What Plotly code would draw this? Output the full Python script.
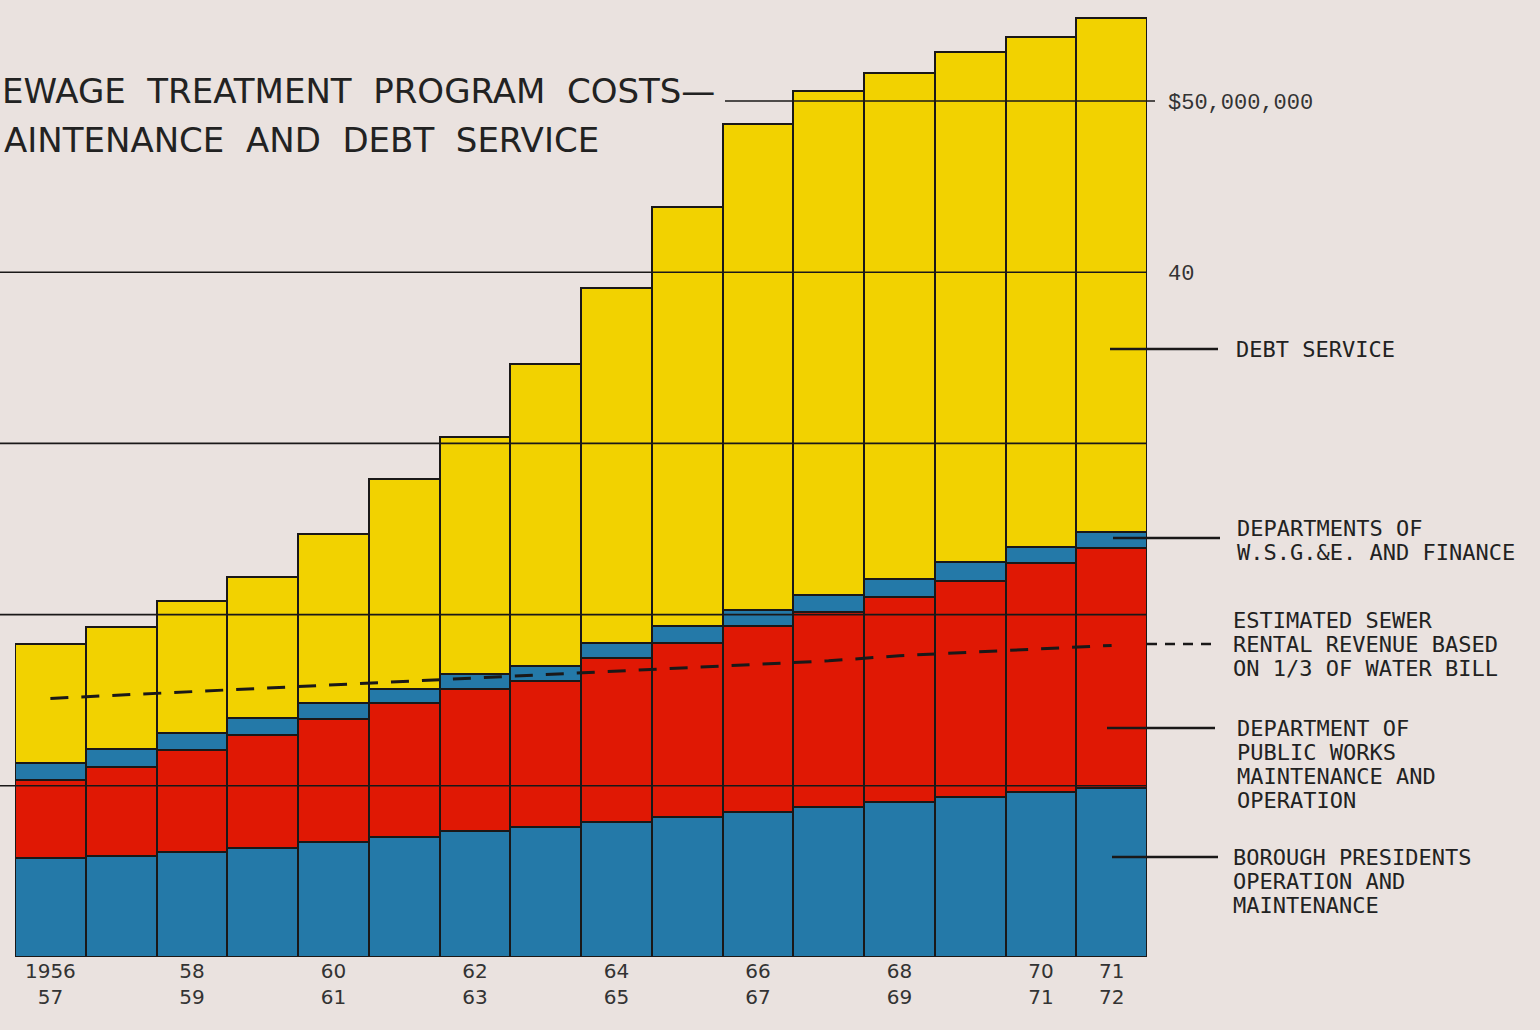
import plotly.graph_objects as go

# ---------------- data (millions of dollars) ----------------
categories = ["1956-57", "1957-58", "1958-59", "1959-60", "1960-61", "1961-62",
              "1962-63", "1963-64", "1964-65", "1965-66", "1966-67", "1967-68",
              "1968-69", "1969-70", "1970-71", "1971-72"]
borough_presidents = [5.78, 5.90, 6.13, 6.37, 6.72, 7.00, 7.36, 7.60,
                      7.89, 8.18, 8.47, 8.76, 9.05, 9.35, 9.64, 9.87]
public_works = [4.56, 5.20, 5.96, 6.60, 7.18, 7.83, 8.29, 8.53,
                9.58, 10.16, 10.86, 11.39, 11.97, 12.62, 13.38, 14.02]
wsge_finance = [1.00, 1.05, 1.00, 1.00, 0.93, 0.82, 0.88, 0.88,
                0.88, 1.00, 0.93, 1.00, 1.05, 1.10, 0.93, 0.93]
debt_service = [6.95, 7.13, 7.71, 8.24, 9.87, 12.27, 13.84, 17.64,
                20.74, 24.47, 28.39, 29.44, 29.56, 29.79, 29.79, 30.02]
sewer_rental = [15.1, 15.3, 15.5, 15.7, 15.9, 16.1, 16.3, 16.5,
                16.7, 16.9, 17.1, 17.3, 17.6, 17.8, 18.0, 18.2]

xtick_categories = ["1956-57", "1958-59", "1960-61", "1962-63", "1964-65",
                    "1966-67", "1968-69", "1970-71", "1971-72"]
xtick_text = ["1956<br>57", "58<br>59", "60<br>61", "62<br>63", "64<br>65",
              "66<br>67", "68<br>69", "70<br>71", "71<br>72"]
ytick_vals = [40, 50]
ytick_text = ["40", "$50,000,000"]
grid_vals = [10, 20, 30, 40, 50]

title_lines = ["EWAGE  TREATMENT  PROGRAM  COSTS—", "AINTENANCE  AND  DEBT  SERVICE"]
label_debt = ["DEBT SERVICE"]
label_wsge = ["DEPARTMENTS OF", "W.S.G.&E. AND FINANCE"]
label_sewer = ["ESTIMATED SEWER", "RENTAL REVENUE BASED", "ON 1/3 OF WATER BILL"]
label_dpw = ["DEPARTMENT OF", "PUBLIC WORKS", "MAINTENANCE AND", "OPERATION"]
label_borough = ["BOROUGH PRESIDENTS", "OPERATION AND", "MAINTENANCE"]

# ---------------- styling ----------------
W, H = 1540, 1030
BG = "#EAE2DF"
YELLOW = "#F2D200"
RED = "#E01804"
BLUE = "#2479A8"
INK = "#1a1818"


def px(x):
    return x / W


def py(y):
    return 1 - y / H


fig = go.Figure()
outline = dict(color=INK, width=2.3)
for vals, col in [(borough_presidents, BLUE), (public_works, RED),
                  (wsge_finance, BLUE), (debt_service, YELLOW)]:
    fig.add_trace(go.Bar(x=categories, y=vals,
                         marker=dict(color=col, line=outline),
                         showlegend=False, hoverinfo="y"))

fig.add_trace(go.Scatter(x=categories, y=sewer_rental, mode="lines",
                         line=dict(color=INK, width=3, dash="18px,13px"),
                         showlegend=False))

shapes = []
for v in grid_vals:
    x0 = px(725) if v == 50 else 0
    x1 = px(1155) if v == 50 else px(1147)
    shapes.append(dict(type="line", xref="paper", yref="y", x0=x0, x1=x1,
                       y0=v, y1=v, line=dict(color=INK, width=1.6),
                       layer="above"))

# leader lines to the labels
leaders = [(349, 1110, 1218, "solid"), (538, 1113, 1220, "solid"),
           (644, 1147, 1215, "10px,8px"), (728, 1107, 1215, "solid"),
           (857, 1112, 1218, "solid")]
for y, x0, x1, dash in leaders:
    shapes.append(dict(type="line", xref="paper", yref="paper",
                       x0=px(x0), x1=px(x1), y0=py(y), y1=py(y),
                       line=dict(color=INK, width=2.4, dash=dash), layer="above"))

annotations = []
title_font = dict(family="DejaVu Sans", size=34, color="#222")
for i, t in enumerate(title_lines):
    annotations.append(dict(text=t, xref="paper", yref="paper",
                            x=px(0 if i == 0 else 2), y=py(91 + i * 49),
                            xanchor="left", yanchor="middle", showarrow=False,
                            font=title_font))

label_font = dict(family="DejaVu Sans Mono", size=22, color="#222")
label_groups = [(label_debt, 349, 1234), (label_wsge, 528, 1235),
                (label_sewer, 620, 1231), (label_dpw, 728, 1235),
                (label_borough, 857, 1231)]
for lines, y0, x0 in label_groups:
    for j, t in enumerate(lines):
        annotations.append(dict(text=t, xref="paper", yref="paper",
                                x=px(x0), y=py(y0 + j * 24), xanchor="left",
                                yanchor="middle", showarrow=False,
                                font=label_font))

fig.update_layout(
    template="none",
    width=W, height=H,
    margin=dict(l=0, r=0, t=0, b=0),
    paper_bgcolor=BG, plot_bgcolor=BG,
    barmode="stack", bargap=0,
    shapes=shapes, annotations=annotations,
    xaxis=dict(domain=[px(15), px(1147)], type="category",
               tickvals=xtick_categories, ticktext=xtick_text,
               showgrid=False, zeroline=False, showline=False, ticks="",
               automargin=False,
               tickfont=dict(family="DejaVu Sans", size=20, color="#333")),
    yaxis=dict(domain=[py(957), 1], range=[0, (957) / ((957 - 101) / 50)],
               side="right", tickvals=ytick_vals, ticktext=ytick_text,
               showgrid=False, zeroline=False, showline=False, ticks="",
               ticklabelstandoff=20, automargin=False,
               tickfont=dict(family="Liberation Mono", size=22, color="#333")),
)

fig.write_html(
    "out.html",
    config={"displayModeBar": False},
    post_script="document.body.style.margin='0';"
                "document.body.style.overflow='hidden';"
                "document.body.style.background='#EAE2DF';",
)
